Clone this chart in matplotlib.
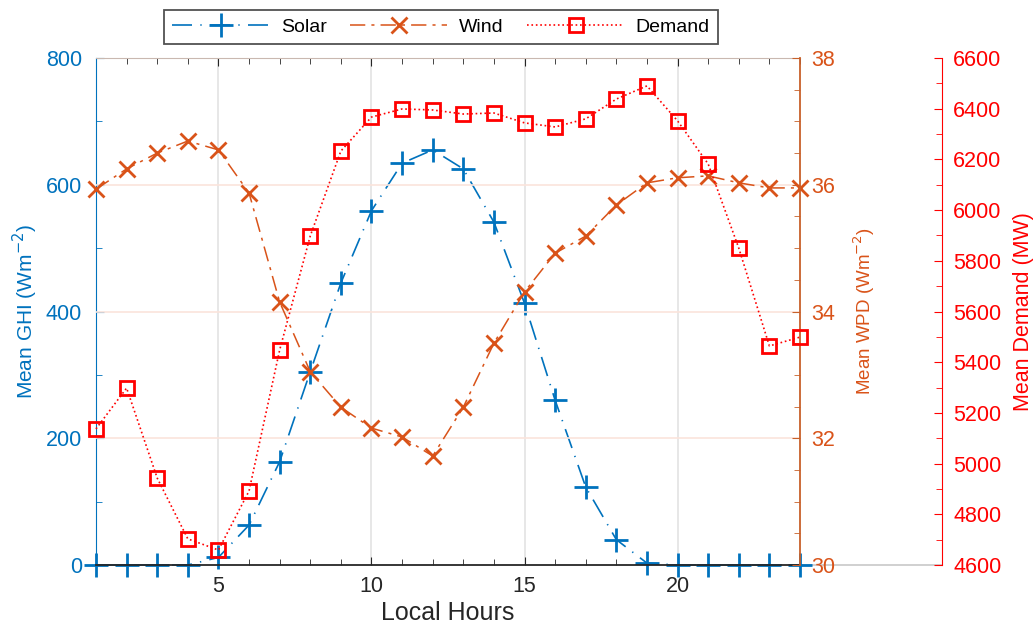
import numpy as np
import matplotlib
matplotlib.use("Agg")
import matplotlib.pyplot as plt
from matplotlib.ticker import MultipleLocator

plt.rcParams['font.family'] = ['Liberation Sans', 'DejaVu Sans']

# data
hours = np.arange(1, 25)
solar = [0, 0, 0, 0, 12, 63, 163, 305, 445, 559, 634, 655,
         625, 541, 413, 260, 123, 40, 3, 0, 0, 0, 0, 0]
wind = [35.93, 36.25, 36.50, 36.69, 36.55, 35.87, 34.15, 33.05, 32.49, 32.16, 32.02, 31.72,
        32.49, 33.50, 34.31, 34.92, 35.19, 35.68, 36.03, 36.11, 36.14, 36.03, 35.95, 35.95]
demand = [5137, 5298, 4943, 4703, 4659, 4892, 5448, 5898, 6233, 6367, 6399, 6395,
          6379, 6383, 6344, 6328, 6360, 6438, 6490, 6352, 6182, 5850, 5464, 5499]

c_sol = '#0072BD'
c_wind = '#D95319'
c_wpd_ax = '#C8602A'
c_dem = '#FF0000'
c_txt = '#262626'

fig = plt.figure(figsize=(10.36, 6.26), dpi=100)
ax = fig.add_axes([96/1036, 61/626, 704/1036, 507/626])
ax2 = ax.twinx()
ax3 = ax.twinx()

# grid
for xv in [5, 10, 15, 20]:
    ax.axvline(xv, color='#E3E3E3', lw=1.2, zorder=0)
for yv in [32, 34, 36]:
    ax2.axhline(yv, color='#FBE4DB', lw=1.2, zorder=0)

l1, = ax.plot(hours, solar, color=c_sol, lw=1.2, dashes=(12, 5, 0.8, 5),
              marker='+', ms=17, mew=2.0, label='Solar')
l2, = ax2.plot(hours, wind, color=c_wind, lw=1.1, dashes=(10, 4, 2, 4),
               marker='x', ms=12, mew=2.0, label='Wind')
l3, = ax3.plot(hours, demand, color=c_dem, lw=1.2, ls=':',
               marker='s', ms=10, mew=2.0, mfc='none', label='Demand')
for l in (l1, l2, l3):
    l.set_clip_on(False)

ax.set_xlim(1, 24)
ax.set_ylim(0, 800)
ax2.set_ylim(30, 38)
ax3.set_ylim(4600, 6600)

ax.xaxis.set_major_locator(MultipleLocator(5))
ax.xaxis.set_minor_locator(MultipleLocator(1))
ax.yaxis.set_major_locator(MultipleLocator(200))
ax.yaxis.set_minor_locator(MultipleLocator(100))
ax2.yaxis.set_major_locator(MultipleLocator(2))
ax2.yaxis.set_minor_locator(MultipleLocator(0.5))
ax3.yaxis.set_major_locator(MultipleLocator(200))
ax3.yaxis.set_minor_locator(MultipleLocator(100))

fs = 15.5
ax.tick_params(axis='x', which='both', direction='in', top=True, colors=c_txt, labelsize=fs)
ax.tick_params(axis='x', which='major', length=6, pad=8)
ax.tick_params(axis='x', which='minor', length=4)
ax.tick_params(axis='y', which='both', direction='in', colors=c_sol, labelsize=fs)
ax.tick_params(axis='y', which='major', length=6, pad=10)
ax.tick_params(axis='y', which='minor', length=4)
ax2.tick_params(axis='y', which='both', direction='in', colors=c_wpd_ax, labelsize=fs)
ax2.tick_params(axis='y', which='major', length=6, pad=8)
ax2.tick_params(axis='y', which='minor', length=4)
for lab in ax2.get_yticklabels():
    lab.set_color(c_wind)
ax3.tick_params(axis='y', which='both', direction='in', colors=c_dem, labelsize=fs)
ax3.tick_params(axis='y', which='major', length=6, pad=8)
ax3.tick_params(axis='y', which='minor', length=4)

# spines
ax.spines['left'].set_color(c_sol)
ax.spines['bottom'].set_color(c_txt)
ax.spines['bottom'].set_linewidth(1.3)
ax.spines['top'].set_color('#C9B8B0')
ax.spines['right'].set_visible(False)
for s in ['left', 'top', 'bottom']:
    ax2.spines[s].set_visible(False)
ax2.spines['right'].set_color(c_wpd_ax)
ax2.spines['right'].set_linewidth(1.3)
for s in ['left', 'top', 'bottom']:
    ax3.spines[s].set_visible(False)
ax3.spines['right'].set_position(('axes', 846/704))
ax3.spines['right'].set_color(c_dem)
ax.plot([1, 846/704], [0, 0], transform=ax.transAxes, color='#C8C8C8',
        lw=1.2, clip_on=False, zorder=0)

ax.set_xlabel('Local Hours', fontsize=18, color=c_txt, labelpad=3)
ax.set_ylabel('Mean GHI (Wm$^{-2}$)', fontsize=15, color=c_sol, labelpad=4)
ax2.set_ylabel('Mean WPD (Wm$^{-2}$)', fontsize=13.5, color=c_wind, labelpad=12)
ax3.set_ylabel('Mean Demand (MW)', fontsize=15.5, color=c_dem, labelpad=8)

leg = fig.legend(handles=[l1, l2, l3], loc='center', ncol=3,
                 bbox_to_anchor=(441/1036, 1 - 27/626), fontsize=14,
                 frameon=True, fancybox=False, handlelength=5.0,
                 columnspacing=1.2, borderpad=0.4, handletextpad=0.6)
leg.get_frame().set_edgecolor(c_txt)
leg.get_frame().set_linewidth(1.3)

fig.savefig('out.png', dpi=100)
